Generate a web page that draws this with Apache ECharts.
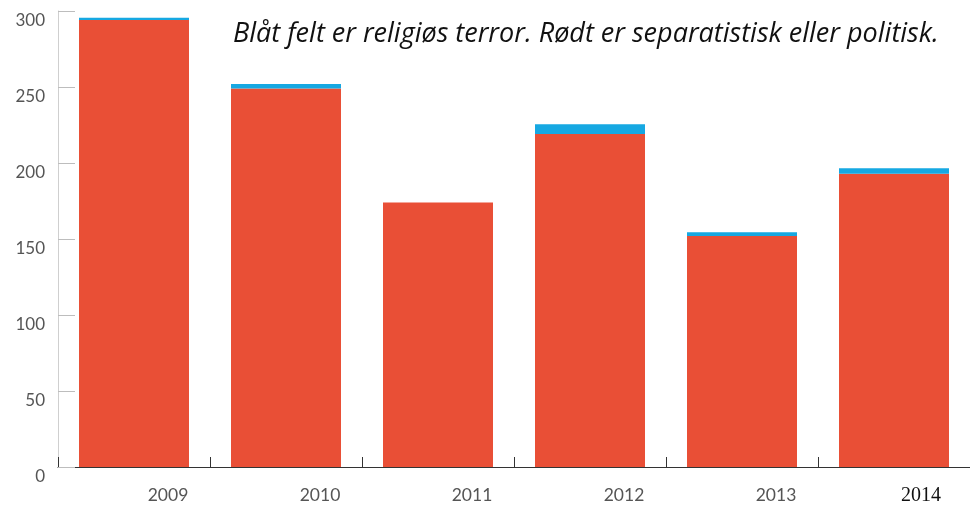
<!DOCTYPE html>
<html>
<head>
<meta charset="utf-8">
<script src="https://cdn.jsdelivr.net/npm/echarts@6/dist/echarts.min.js"></script>
<style>
html,body{margin:0;padding:0;background:#fff;}
#c{width:970px;height:506px;}
</style>
</head>
<body>
<div id="c"></div>
<script>
var years = ['2009', '2010', '2011', '2012', '2013', '2014'];
var politisk = [294, 249, 174, 219, 152, 193];
var religios = [1.5, 3, 0, 6.5, 2.5, 3.5];
var yTicks = [0, 50, 100, 150, 200, 250, 300];
var titleText = 'Blåt felt er religiøs terror. Rødt er separatistisk eller politisk.';

var chart = echarts.init(document.getElementById('c'));
chart.setOption({
  animation: false,
  backgroundColor: '#ffffff',
  title: {
    text: titleText,
    left: 228,
    top: 16,
    textStyle: {
      fontFamily: 'Open Sans',
      fontStyle: 'italic',
      fontWeight: 'normal',
      fontSize: 27,
      color: '#111'
    }
  },
  grid: {left: 58, right: 0, top: 11, bottom: 31, containLabel: false},
  xAxis: {
    type: 'category',
    data: years,
    axisLine: {lineStyle: {color: '#333', width: 1.2}},
    axisTick: {show: true, inside: true, length: 10, alignWithLabel: false, lineStyle: {color: '#333'}},
    axisLabel: {
      margin: 19,
      interval: 0,
      formatter: function (v, i) {
        return i === years.length - 1 ? '{s|' + v + '}' : '{a|' + v + '}';
      },
      rich: {
        a: {fontFamily: 'Lato', fontSize: 17.5, color: '#555', padding: [0, 0, 0, 68]},
        s: {fontFamily: 'Liberation Serif', fontSize: 20, color: '#111', padding: [0, 0, 0, 54]}
      }
    }
  },
  yAxis: {
    type: 'value',
    min: yTicks[0],
    max: yTicks[yTicks.length - 1],
    interval: 50,
    axisLine: {show: true, lineStyle: {color: '#cfcfcf', width: 1}},
    axisTick: {show: true, inside: true, length: 17, lineStyle: {color: '#bdbdbd'}},
    splitLine: {show: false},
    axisLabel: {
      margin: 13,
      fontFamily: 'Lato',
      fontSize: 17,
      color: '#555',
      verticalAlign: 'top',
      padding: [1, 0, 0, 0]
    }
  },
  series: [
    {
      name: 'Separatistisk eller politisk',
      type: 'bar',
      stack: 'a',
      barWidth: 110,
      data: politisk,
      itemStyle: {color: '#e94f36'}
    },
    {
      name: 'Religiøs',
      type: 'bar',
      stack: 'a',
      barWidth: 110,
      data: religios,
      itemStyle: {color: '#16a8e2'}
    }
  ]
});
</script>
</body>
</html>
